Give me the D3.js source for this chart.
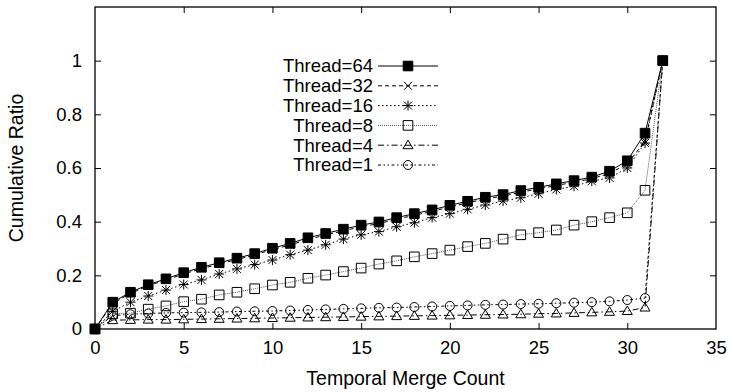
<!DOCTYPE html>
<html>
<head>
<meta charset="utf-8">
<script src="https://cdn.jsdelivr.net/npm/d3@7"></script>
<style>
  body { margin: 0; background: #fff; }
  text { font-family: "Liberation Sans", Arial, sans-serif; fill: #000; }
</style>
</head>
<body>
<script>
// merge count on the x axis
var mergeCount = [0,1,2,3,4,5,6,7,8,9,10,11,12,13,14,15,16,17,18,19,20,21,22,23,24,25,26,27,28,29,30,31,32];

// cumulative ratio per thread count
var thread64 = [0,0.100,0.137,0.165,0.187,0.210,0.230,0.247,0.264,0.281,0.301,0.319,0.340,0.356,0.372,0.387,0.399,0.415,0.430,0.444,0.461,0.476,0.491,0.501,0.516,0.528,0.541,0.553,0.566,0.588,0.627,0.730,1.0];
var thread32 = [0,0.095,0.133,0.161,0.183,0.205,0.225,0.242,0.259,0.276,0.296,0.313,0.334,0.350,0.366,0.381,0.393,0.409,0.424,0.438,0.455,0.470,0.485,0.495,0.510,0.522,0.535,0.547,0.560,0.580,0.615,0.700,1.0];
var thread16 = [0,0.066,0.100,0.123,0.145,0.166,0.183,0.205,0.224,0.240,0.257,0.277,0.294,0.314,0.335,0.351,0.363,0.381,0.396,0.415,0.430,0.446,0.462,0.477,0.489,0.504,0.520,0.532,0.551,0.563,0.600,0.693,1.0];
var thread8  = [0,0.057,0.059,0.074,0.086,0.102,0.111,0.127,0.137,0.150,0.164,0.174,0.189,0.201,0.214,0.227,0.242,0.254,0.269,0.281,0.294,0.307,0.319,0.335,0.351,0.359,0.369,0.387,0.400,0.415,0.433,0.517,1.0];
var thread4  = [0,0.033,0.034,0.035,0.035,0.036,0.037,0.038,0.039,0.040,0.041,0.042,0.043,0.044,0.045,0.046,0.047,0.048,0.049,0.050,0.051,0.052,0.053,0.054,0.055,0.057,0.058,0.060,0.062,0.064,0.067,0.080,1.0];
var thread1  = [0,0.050,0.055,0.058,0.060,0.061,0.062,0.063,0.065,0.066,0.067,0.069,0.071,0.073,0.075,0.077,0.079,0.080,0.082,0.084,0.086,0.088,0.090,0.091,0.093,0.094,0.096,0.098,0.100,0.103,0.108,0.115,1.0];

var seriesNames = ["Thread=64","Thread=32","Thread=16","Thread=8","Thread=4","Thread=1"];
var seriesValues = [thread64, thread32, thread16, thread8, thread4, thread1];

var xTicks = [0,5,10,15,20,25,30,35];
var yTicks = [0,0.2,0.4,0.6,0.8,1];

var width = 732, height = 392;
var plotL = 95, plotR = 716, plotT = 7, plotB = 329;
var fontSize = 18.5;

var x = d3.scaleLinear().domain([0,35]).range([plotL,plotR]);
var y = d3.scaleLinear().domain([0,1.2]).range([plotB,plotT]);

var svg = d3.select("body").append("svg")
  .attr("width",width)
  .attr("height",height);

// line style and marker for each series
var styles = [
  {dash:null,          color:"#000", marker:"fsquare"},
  {dash:"4,3",         color:"#000", marker:"times"},
  {dash:"1.5,2.5",     color:"#000", marker:"star"},
  {dash:"1,1",         color:"#555", marker:"square"},
  {dash:"6,3,1.5,3",   color:"#000", marker:"triangle"},
  {dash:"3,2.5,1.5,2.5,1.5,2.5", color:"#000", marker:"circle"}
];

function markerPath(type){
  var s = 4.8;
  if (type=="fsquare" || type=="square")
    return "M"+(-s)+","+(-s)+"h"+(2*s)+"v"+(2*s)+"h"+(-2*s)+"Z";
  if (type=="times")
    return "M-4,-4L4,4M-4,4L4,-4";
  if (type=="star")
    return "M-4,-4L4,4M-4,4L4,-4M-5,0L5,0M0,-5L0,5";
  if (type=="triangle")
    return "M0,-5L5,3.5L-5,3.5Z";
  if (type=="circle")
    return "M4.5,0A4.5,4.5 0 1,1 -4.5,0A4.5,4.5 0 1,1 4.5,0Z";
}

function drawMarker(g, type, px, py){
  g.append("path")
    .attr("d", markerPath(type))
    .attr("transform","translate("+px+","+py+")")
    .attr("fill", type=="fsquare" ? "#000" : "none")
    .attr("stroke","#000")
    .attr("stroke-width",1);
}

// axes: ticks inward on all four sides
var xAxisB = d3.axisBottom(x).tickValues(xTicks).tickSize(-6).tickPadding(12).tickFormat(function(d){ return String(d); });
var xAxisT = d3.axisTop(x).tickValues(xTicks).tickSize(-6).tickFormat("");
var yAxisL = d3.axisLeft(y).tickValues(yTicks).tickSize(-6).tickPadding(13).tickFormat(function(d){ return String(d); });
var yAxisR = d3.axisRight(y).tickValues(yTicks).tickSize(-6).tickFormat("");

svg.append("g").attr("transform","translate(0,"+plotB+")").call(xAxisB);
svg.append("g").attr("transform","translate(0,"+plotT+")").call(xAxisT);
svg.append("g").attr("transform","translate("+plotL+",0)").call(yAxisL);
svg.append("g").attr("transform","translate("+plotR+",0)").call(yAxisR);

svg.selectAll(".domain").remove();
svg.selectAll(".tick line").attr("stroke","#000").attr("stroke-width",1);
svg.selectAll(".tick text").attr("font-size",fontSize).style("font-family","Liberation Sans, Arial, sans-serif");
svg.selectAll(".tick").filter(function(d){ return d==0 || d==35; }).select("line").remove();

svg.append("rect")
  .attr("x",plotL).attr("y",plotT)
  .attr("width",plotR-plotL).attr("height",plotB-plotT)
  .attr("fill","none").attr("stroke","#000").attr("stroke-width",1.3);

// axis titles
svg.append("text")
  .attr("x",(plotL+plotR)/2).attr("y",385)
  .attr("text-anchor","middle").attr("font-size",19.5)
  .text("Temporal Merge Count");
svg.append("text")
  .attr("transform","translate(23,"+((plotT+plotB)/2)+") rotate(-90)")
  .attr("text-anchor","middle").attr("font-size",19.5)
  .text("Cumulative Ratio");

// series lines and points
var line = d3.line()
  .x(function(d,i){ return x(mergeCount[i]); })
  .y(function(d){ return y(d); });

for (var k = seriesValues.length-1; k >= 0; k--) {
  var g = svg.append("g");
  g.append("path")
    .datum(seriesValues[k])
    .attr("d",line)
    .attr("fill","none")
    .attr("stroke",styles[k].color)
    .attr("stroke-width",1)
    .attr("stroke-dasharray",styles[k].dash);
  seriesValues[k].forEach(function(v,i){
    drawMarker(g, styles[k].marker, x(mergeCount[i]), y(v));
  });
}

// legend
var legend = svg.append("g");
seriesNames.forEach(function(name,k){
  var ly = 66 + k*19.8;
  legend.append("text")
    .attr("x",373).attr("y",ly).attr("dy","0.35em")
    .attr("text-anchor","end").attr("font-size",fontSize)
    .text(name);
  legend.append("line")
    .attr("x1",378).attr("x2",438).attr("y1",ly).attr("y2",ly)
    .attr("stroke",styles[k].color).attr("stroke-width",1)
    .attr("stroke-dasharray",styles[k].dash);
  drawMarker(legend, styles[k].marker, 408, ly);
});
</script>
</body>
</html>
